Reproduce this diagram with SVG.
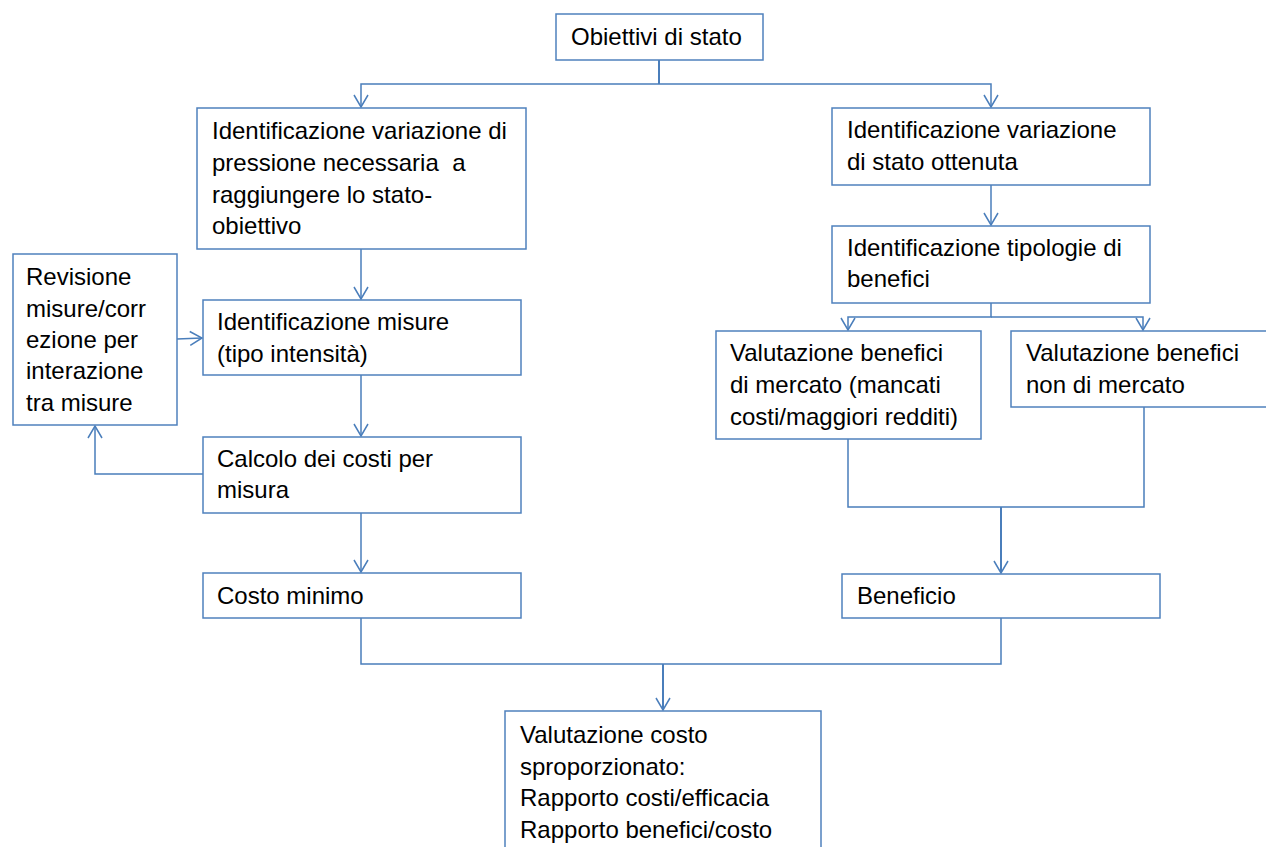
<svg xmlns="http://www.w3.org/2000/svg" width="1266" height="847" viewBox="0 0 1266 847">
<style>
.box{fill:#fff;stroke:#4f81bd;stroke-width:1.5}
.t{font-family:"Liberation Sans",Arial,sans-serif;font-size:24px;fill:#000}
.c{fill:none;stroke:#4a7ebb;stroke-width:1.5}
.c2{fill:none;stroke:#4a7ebb;stroke-width:2}
</style>
<defs>
<marker id="arr" markerUnits="userSpaceOnUse" viewBox="-13 -8 15 16" markerWidth="15" markerHeight="16" refX="0" refY="0" orient="auto" overflow="visible">
<path d="M-12,-7 L0,0 L-12,7" fill="none" stroke="#4a7ebb" stroke-width="1.5"/>
</marker>
</defs>
<rect width="1266" height="847" fill="#fff"/>
<g id="connectors">
<path class="c2" d="M659,60 V84"/>
<path class="c" d="M659,84 H361 V107" marker-end="url(#arr)"/>
<path class="c" d="M659,84 H991 V107" marker-end="url(#arr)"/>
<path class="c" d="M361,249 V299" marker-end="url(#arr)"/>
<path class="c" d="M361,375 V436" marker-end="url(#arr)"/>
<path class="c" d="M361,513 V572" marker-end="url(#arr)"/>
<path class="c" d="M203,474 H95 V426" marker-end="url(#arr)"/>
<path class="c" d="M177,339 L202,338" marker-end="url(#arr)"/>
<path class="c" d="M991,185 V225" marker-end="url(#arr)"/>
<path class="c" d="M991,303 V317 H848 V330" marker-end="url(#arr)"/>
<path class="c" d="M991,317 H1143 V330" marker-end="url(#arr)"/>
<path class="c" d="M848,439 V507 H1144 V407"/>
<path class="c2" d="M1001,507 V573" marker-end="url(#arr)"/>
<path class="c" d="M361,618 V664 H1001 V618"/>
<path class="c2" d="M663,664 V710" marker-end="url(#arr)"/>
</g>
<g id="obiettivi">
<rect class="box" x="556" y="14" width="207" height="46"/>
<text class="t" x="571" y="45">Obiettivi di stato</text>
</g>
<g id="pressione">
<rect class="box" x="197" y="108" width="329" height="141"/>
<text class="t" x="212" y="139">Identificazione variazione di</text>
<text class="t" x="212" y="171" xml:space="preserve">pressione necessaria  a</text>
<text class="t" x="212" y="203">raggiungere lo stato-</text>
<text class="t" x="212" y="234">obiettivo</text>
</g>
<g id="revisione">
<rect class="box" x="13" y="254" width="164" height="171"/>
<text class="t" x="26" y="285">Revisione</text>
<text class="t" x="26" y="317">misure/corr</text>
<text class="t" x="26" y="348">ezione per</text>
<text class="t" x="26" y="379">interazione</text>
<text class="t" x="26" y="411">tra misure</text>
</g>
<g id="misure">
<rect class="box" x="203" y="300" width="318" height="75"/>
<text class="t" x="217" y="330">Identificazione misure</text>
<text class="t" x="217" y="362">(tipo intensità)</text>
</g>
<g id="calcolo">
<rect class="box" x="203" y="437" width="318" height="76"/>
<text class="t" x="217" y="467">Calcolo dei costi per</text>
<text class="t" x="217" y="498">misura</text>
</g>
<g id="costo">
<rect class="box" x="203" y="573" width="318" height="45"/>
<text class="t" x="217" y="604">Costo minimo</text>
</g>
<g id="ottenuta">
<rect class="box" x="832" y="108" width="318" height="77"/>
<text class="t" x="847" y="138">Identificazione variazione</text>
<text class="t" x="847" y="170">di stato ottenuta</text>
</g>
<g id="tipologie">
<rect class="box" x="832" y="226" width="318" height="77"/>
<text class="t" x="847" y="256">Identificazione tipologie di</text>
<text class="t" x="847" y="287">benefici</text>
</g>
<g id="mercato">
<rect class="box" x="716" y="331" width="265" height="108"/>
<text class="t" x="730" y="361">Valutazione benefici</text>
<text class="t" x="730" y="393">di mercato (mancati</text>
<text class="t" x="730" y="425">costi/maggiori redditi)</text>
</g>
<g id="nonmercato">
<rect class="box" x="1011" y="331" width="264" height="76"/>
<text class="t" x="1026" y="361">Valutazione benefici</text>
<text class="t" x="1026" y="393">non di mercato</text>
</g>
<g id="beneficio">
<rect class="box" x="842" y="574" width="318" height="44"/>
<text class="t" x="857" y="604">Beneficio</text>
</g>
<g id="finale">
<rect class="box" x="505" y="711" width="316" height="160"/>
<text class="t" x="520" y="743">Valutazione costo</text>
<text class="t" x="520" y="775">sproporzionato:</text>
<text class="t" x="520" y="806">Rapporto costi/efficacia</text>
<text class="t" x="520" y="838">Rapporto benefici/costo</text>
</g>
</svg>
